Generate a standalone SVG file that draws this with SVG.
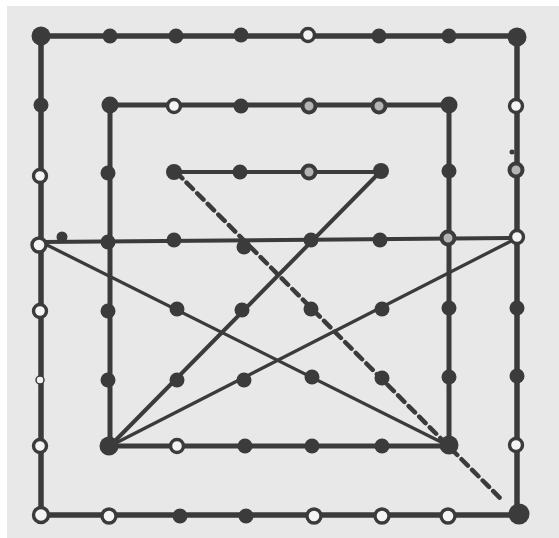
<svg xmlns="http://www.w3.org/2000/svg" width="559" height="538" viewBox="0 0 559 538">
<defs>
<style>
.ln{fill:none;stroke:#3b3b3b;stroke-linecap:round;stroke-linejoin:round}
.f{fill:#3b3b3b}
.o{fill:#f4f4f4;stroke:#3b3b3b;stroke-width:3.4}
.r{fill:#b4b4b4;stroke:#3b3b3b;stroke-width:4}
.t{fill:#f0f0f0;stroke:#3b3b3b;stroke-width:1.5}
</style>
</defs>
<rect width="559" height="538" fill="#ffffff"/>
<rect x="7" y="6" width="552" height="532" fill="#e8e8e8"/>
<g id="connectors">
<path class="ln" stroke-width="5.5" d="M41,36 H517 V515 H41 Z"/>
<path class="ln" stroke-width="5" d="M110,105 H449 V446 H110 Z"/>
<path class="ln" stroke-width="4" d="M176,172 H380 L110,446"/>
<path class="ln" stroke-width="4" d="M41,242 L517,238"/>
<path class="ln" stroke-width="3.3" d="M41,242 L449,446"/>
<path class="ln" stroke-width="3.3" d="M110,446 L517,238"/>
<path class="ln" stroke-width="4.5" stroke-linecap="butt" stroke-dasharray="9 6" d="M176,172 L502,500"/>
</g>
<g id="n00"><circle class="f" cx="41" cy="36" r="9.5"/></g>
<g id="n01"><circle class="f" cx="110" cy="36" r="7.5"/></g>
<g id="n02"><circle class="f" cx="176" cy="36" r="7.5"/></g>
<g id="n03"><circle class="f" cx="241" cy="35" r="7.5"/></g>
<g id="n04"><circle class="o" cx="308" cy="35" r="6.5"/></g>
<g id="n05"><circle class="f" cx="379" cy="36" r="7.5"/></g>
<g id="n06"><circle class="f" cx="449" cy="36" r="7.5"/></g>
<g id="n07"><circle class="f" cx="517" cy="37" r="9.5"/></g>
<g id="n10"><circle class="f" cx="41" cy="105" r="7.5"/></g>
<g id="n11"><circle class="f" cx="110" cy="105" r="8.5"/></g>
<g id="n12"><circle class="o" cx="174" cy="106" r="6.5"/></g>
<g id="n13"><circle class="f" cx="241" cy="106" r="7.5"/></g>
<g id="n14"><circle class="r" cx="309" cy="106" r="6.5"/></g>
<g id="n15"><circle class="r" cx="379" cy="106" r="6.5"/></g>
<g id="n16"><circle class="f" cx="449" cy="105" r="8.5"/></g>
<g id="n17"><circle class="o" cx="516" cy="106" r="6.5"/></g>
<g id="n20"><circle class="o" cx="40" cy="176" r="6.5"/></g>
<g id="n21"><circle class="f" cx="108" cy="173" r="7.5"/></g>
<g id="n22"><circle class="f" cx="174" cy="172" r="8"/></g>
<g id="n23"><circle class="f" cx="240" cy="172" r="7.5"/></g>
<g id="n24"><circle class="r" cx="309" cy="172" r="6.5"/></g>
<g id="n25"><circle class="f" cx="381" cy="171" r="8"/></g>
<g id="n26"><circle class="f" cx="449" cy="171" r="7.5"/></g>
<g id="n27"><circle class="r" cx="516" cy="170" r="6.5"/></g>
<g id="n30"><circle class="o" cx="39" cy="245" r="7"/></g>
<g id="n31"><circle class="f" cx="108" cy="242" r="7.5"/></g>
<g id="n32"><circle class="f" cx="174" cy="240" r="7.5"/></g>
<g id="n33"><circle class="f" cx="244" cy="247" r="7.5"/></g>
<g id="n34"><circle class="f" cx="311" cy="240" r="7.5"/></g>
<g id="n35"><circle class="f" cx="380" cy="240" r="7.5"/></g>
<g id="n36"><circle class="r" cx="448" cy="238" r="6.5"/></g>
<g id="n37"><circle class="o" cx="517" cy="237" r="6.5"/></g>
<g id="n40"><circle class="o" cx="40" cy="311" r="6.5"/></g>
<g id="n41"><circle class="f" cx="108" cy="311" r="7.5"/></g>
<g id="n42"><circle class="f" cx="177" cy="309" r="7.5"/></g>
<g id="n43"><circle class="f" cx="242" cy="310" r="7.5"/></g>
<g id="n44"><circle class="f" cx="311" cy="309" r="7.5"/></g>
<g id="n45"><circle class="f" cx="382" cy="309" r="7.5"/></g>
<g id="n46"><circle class="f" cx="449" cy="308" r="7.5"/></g>
<g id="n47"><circle class="f" cx="517" cy="308" r="7.5"/></g>
<g id="n50"><circle class="t" cx="40" cy="380" r="4"/></g>
<g id="n51"><circle class="f" cx="108" cy="380" r="7.5"/></g>
<g id="n52"><circle class="f" cx="177" cy="380" r="7.5"/></g>
<g id="n53"><circle class="f" cx="244" cy="380" r="7.5"/></g>
<g id="n54"><circle class="f" cx="312" cy="377" r="7.5"/></g>
<g id="n55"><circle class="f" cx="382" cy="378" r="7.5"/></g>
<g id="n56"><circle class="f" cx="449" cy="377" r="7.5"/></g>
<g id="n57"><circle class="f" cx="517" cy="376" r="7.5"/></g>
<g id="n60"><circle class="o" cx="40" cy="446" r="6.5"/></g>
<g id="n61"><circle class="f" cx="109" cy="446" r="9.5"/></g>
<g id="n62"><circle class="o" cx="177" cy="446" r="6.5"/></g>
<g id="n63"><circle class="f" cx="245" cy="446" r="7.5"/></g>
<g id="n64"><circle class="f" cx="312" cy="446" r="7.5"/></g>
<g id="n65"><circle class="f" cx="382" cy="446" r="7.5"/></g>
<g id="n66"><circle class="f" cx="449" cy="445" r="9.5"/></g>
<g id="n67"><circle class="o" cx="516" cy="445" r="6.5"/></g>
<g id="n70"><circle class="o" cx="41" cy="515" r="7.5"/></g>
<g id="n71"><circle class="o" cx="109" cy="516" r="7"/></g>
<g id="n72"><circle class="f" cx="180" cy="516" r="7.5"/></g>
<g id="n73"><circle class="f" cx="246" cy="516" r="7.5"/></g>
<g id="n74"><circle class="o" cx="314" cy="516" r="7"/></g>
<g id="n75"><circle class="o" cx="382" cy="516" r="7"/></g>
<g id="n76"><circle class="o" cx="448" cy="516" r="7"/></g>
<g id="n77"><circle class="f" cx="519" cy="514" r="10.5"/></g>
<g id="blob1"><circle class="f" cx="62" cy="237" r="5.5"/></g>
<g id="blob2"><circle class="f" cx="512" cy="152" r="2.5"/></g>
</svg>
